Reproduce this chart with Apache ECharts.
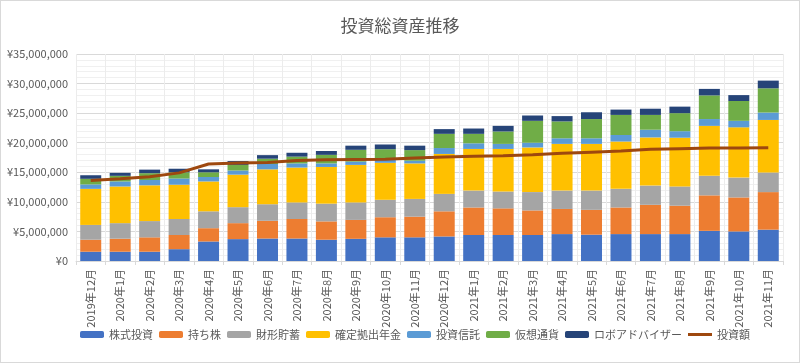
<!DOCTYPE html>
<html><head><meta charset="utf-8">
<script src="https://cdn.jsdelivr.net/npm/echarts@6/dist/echarts.min.js"></script>
<style>
html,body{margin:0;padding:0;background:#fff;}
#c{width:798px;height:361px;border:1px solid #d9d9d9;}
</style></head>
<body><div id="c"></div>
<script>
const categories = ['2019年12月','2020年1月','2020年2月','2020年3月','2020年4月','2020年5月','2020年6月','2020年7月','2020年8月','2020年9月','2020年10月','2020年11月','2020年12月','2021年1月','2021年2月','2021年3月','2021年4月','2021年5月','2021年6月','2021年7月','2021年8月','2021年9月','2021年10月','2021年11月'];
const kabushiki = [1570000,1570000,1570000,2000000,3300000,3700000,3800000,3800000,3600000,3750000,4000000,4000000,4150000,4400000,4400000,4400000,4550000,4450000,4550000,4550000,4550000,5100000,5000000,5300000];
const mochikabu = [2030000,2200000,2430000,2400000,2250000,2700000,3000000,3300000,3100000,3200000,3400000,3500000,4250000,4650000,4500000,4150000,4250000,4200000,4500000,4950000,4800000,6000000,5750000,6350000];
const zaikei = [2500000,2630000,2750000,2700000,2850000,2700000,2800000,2800000,3000000,2950000,2950000,3000000,2950000,2850000,2850000,3100000,3100000,3250000,3150000,3250000,3250000,3300000,3350000,3300000];
const kakutei = [6100000,6200000,6050000,5800000,5050000,5500000,5900000,5900000,6200000,6350000,6250000,6000000,6750000,7050000,7200000,7550000,7900000,7900000,8000000,8150000,8250000,8450000,8500000,8900000];
const toushin = [750000,850000,900000,1050000,750000,700000,900000,700000,600000,550000,500000,450000,1000000,950000,850000,800000,950000,950000,1100000,1300000,1100000,1150000,1100000,1250000];
const kasou = [950000,950000,1150000,1050000,800000,950000,900000,1150000,1450000,2000000,1800000,1800000,2400000,1600000,2100000,3700000,2850000,3250000,3400000,2500000,3050000,4000000,3350000,4100000];
const robo = [600000,500000,600000,600000,500000,650000,600000,650000,650000,700000,800000,750000,800000,900000,950000,900000,900000,1150000,900000,1050000,1100000,1100000,1000000,1300000];
const toushigaku = [13600000,13900000,14250000,14900000,16400000,16550000,16650000,17000000,17100000,17150000,17200000,17400000,17600000,17700000,17800000,17950000,18200000,18400000,18600000,18900000,19000000,19100000,19100000,19150000];
const yTicks = {min:0, max:35000000, interval:5000000};

const FONT = '"Noto Sans CJK JP", "Noto Sans", sans-serif';
const TXT = '#595959';
const bars = [
  ['株式投資', kabushiki, '#4472C4'],
  ['持ち株', mochikabu, '#ED7D31'],
  ['財形貯蓄', zaikei, '#A5A5A5'],
  ['確定拠出年金', kakutei, '#FFC000'],
  ['投資信託', toushin, '#5B9BD5'],
  ['仮想通貨', kasou, '#70AD47'],
  ['ロボアドバイザー', robo, '#264478']
];
const series = bars.map(b => ({
  name: b[0], type: 'bar', stack: 'total', data: b[1], barWidth: 21,
  itemStyle: {color: b[2]}
}));
series.push({
  name: '投資額', type: 'line', data: toushigaku, symbol: 'none', z: 10,
  lineStyle: {color: '#9E480E', width: 3}, itemStyle: {color: '#9E480E'}
});

const chart = echarts.init(document.getElementById('c'), null, {renderer: 'canvas'});
chart.setOption({
  animation: false,
  textStyle: {fontFamily: FONT},
  title: {text: '投資総資産推移', left: 'center', top: 11,
    textStyle: {fontFamily: FONT, fontSize: 17, fontWeight: 'normal', color: TXT}},
  legend: {
    bottom: 17, left: 74, itemWidth: 24, itemHeight: 7, itemGap: 6,
    textStyle: {fontFamily: FONT, fontSize: 11, color: TXT},
    data: ['株式投資','持ち株','財形貯蓄','確定拠出年金','投資信託','仮想通貨','ロボアドバイザー',
      {name: '投資額', icon: 'path://M0,2 L24,2 L24,5 L0,5 Z', itemStyle: {color: '#9E480E'}}]
  },
  grid: {left: 75, right: 16, top: 53, bottom: 101, containLabel: false},
  xAxis: {
    type: 'category', data: categories,
    axisLine: {lineStyle: {color: '#d9d9d9'}},
    axisTick: {show: true, length: 4, lineStyle: {color: '#d9d9d9'}},
    splitLine: {show: true, lineStyle: {color: '#ececec'}},
    axisLabel: {rotate: 90, fontSize: 11, color: TXT, fontFamily: FONT, margin: 8}
  },
  yAxis: {
    type: 'value', min: yTicks.min, max: yTicks.max, interval: yTicks.interval,
    axisLine: {show: false}, axisTick: {show: false},
    splitLine: {lineStyle: {color: '#d9d9d9'}},
    minorTick: {show: false, splitNumber: 5},
    minorSplitLine: {show: true, lineStyle: {color: '#f0f0f0'}},
    axisLabel: {fontSize: 11, color: TXT, fontFamily: FONT, margin: 8,
      formatter: v => '¥' + String(v).replace(/\B(?=(\d{3})+(?!\d))/g, ',')}
  },
  series: series
});
</script>
</body></html>
